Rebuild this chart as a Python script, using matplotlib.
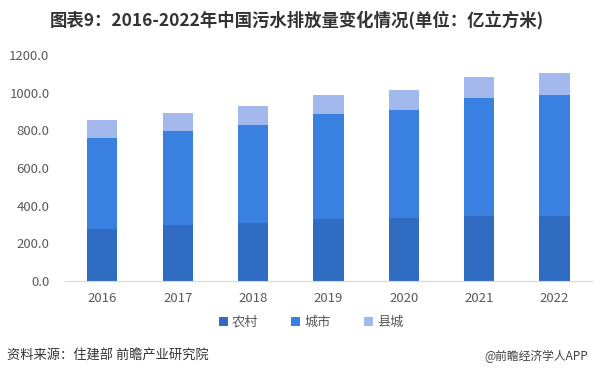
import matplotlib
matplotlib.use("Agg")
import matplotlib.pyplot as plt
import numpy as np

plt.rcParams['font.family'] = ['Noto Sans CJK SC', 'DejaVu Sans']

# data (亿立方米)
years = ['2016', '2017', '2018', '2019', '2020', '2021', '2022']
rural = [274, 296, 310, 329, 335, 345, 345]     # 农村
urban = [485, 500, 518, 558, 573, 627, 643]     # 城市
county = [96, 96, 101, 101, 106, 111, 116]      # 县城
series_names = ['农村', '城市', '县城']
colors = ['#2F6CC2', '#3A80E0', '#A3B9EE']

fig = plt.figure(figsize=(5.94, 3.78), dpi=100)
ax = fig.add_axes([0.109, 0.257, 0.888, 0.597])

x = np.arange(len(years))
w = 0.4
bottom = np.zeros(len(years))
for vals, name, c in zip([rural, urban, county], series_names, colors):
    ax.bar(x, vals, w, bottom=bottom, color=c, label=name)
    bottom += np.array(vals)

ax.set_xlim(-0.5, len(years) - 0.5)
ax.set_ylim(0, 1200)
ax.set_yticks(np.arange(0, 1201, 200))
ax.set_yticklabels(['%.1f' % v for v in np.arange(0, 1201, 200)])
ax.set_xticks(x)
ax.set_xticklabels(years)
ax.tick_params(length=0, labelsize=9.5, labelcolor='#595959')
ax.tick_params(axis='x', pad=8)
ax.tick_params(axis='y', pad=11)
for s in ['top', 'right', 'left']:
    ax.spines[s].set_visible(False)
ax.spines['bottom'].set_color('#D9D9D9')

ax.legend(loc='upper center', bbox_to_anchor=(0.467, -0.103), ncol=3, frameon=False,
          fontsize=9.5, handlelength=0.7, handleheight=0.7, handletextpad=0.3,
          columnspacing=2.5, labelcolor='#595959')

fig.text(0.5, 0.947, '图表9：2016-2022年中国污水排放量变化情况(单位：亿立方米)',
         ha='center', va='center', fontsize=12.5, fontweight='bold', color='#333333')
fig.text(0.012, 0.058, '资料来源：住建部 前瞻产业研究院', ha='left', va='center',
         fontsize=9.5, color='#333333')
fig.text(0.99, 0.058, '@前瞻经济学人APP', ha='right', va='center',
         fontsize=8.5, color='#404040')

fig.savefig('out.png', dpi=100)
